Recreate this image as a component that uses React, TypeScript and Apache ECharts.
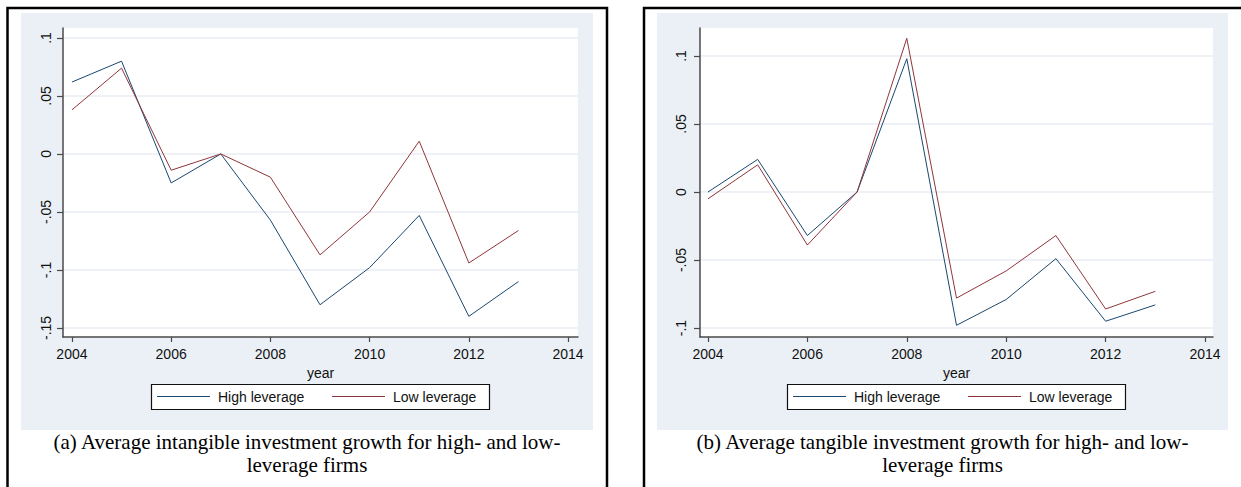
import { useEffect, useRef } from 'react';
import * as echarts from 'echarts';

const years = [2004, 2005, 2006, 2007, 2008, 2009, 2010, 2011, 2012, 2013];
const intangibleHigh = [0.062, 0.080, -0.025, 0.000, -0.057, -0.130, -0.098, -0.053, -0.140, -0.110];
const intangibleLow = [0.038, 0.074, -0.014, 0.000, -0.020, -0.087, -0.050, 0.011, -0.094, -0.066];
const tangibleHigh = [0.000, 0.024, -0.032, 0.000, 0.098, -0.098, -0.079, -0.049, -0.095, -0.083];
const tangibleLow = [-0.005, 0.020, -0.039, 0.000, 0.113, -0.078, -0.058, -0.032, -0.086, -0.073];
const xTicks = [2004, 2006, 2008, 2010, 2012, 2014];
const yTicksA = [-0.15, -0.1, -0.05, 0, 0.05, 0.1];
const yTicksB = [-0.1, -0.05, 0, 0.05, 0.1];
const seriesNames = ['High leverage', 'Low leverage'];
const xTitle = 'year';
const captionA = ['(a) Average intangible investment growth for high- and low-', 'leverage firms'];
const captionB = ['(b) Average tangible investment growth for high- and low-', 'leverage firms'];

const NAVY = '#1a476f';
const MAROON = '#90353b';
const BG = '#eaf0f5';
const GRID = '#e8eef4';
const AXIS = '#4a4a4a';
const SANS = '"Liberation Sans", Arial, sans-serif';
const SERIF = '"Liberation Serif", "Times New Roman", serif';

const fmtY = (v: number) => {
  const s = String(+(+v).toFixed(3));
  return s.replace(/^(-?)0\./, '$1.');
};

function xAxisFor(gridIndex: number, min: number, max: number) {
  return {
    type: 'value',
    gridIndex,
    min,
    max,
    name: xTitle,
    nameLocation: 'middle',
    nameGap: 24,
    nameTextStyle: { fontFamily: SANS, fontSize: 14, color: '#111' },
    axisLine: { show: true, onZero: false, lineStyle: { color: AXIS, width: 1.5 } },
    axisTick: { show: true, length: 5, customValues: xTicks, lineStyle: { color: AXIS, width: 1.2 } },
    axisLabel: { customValues: xTicks, margin: 10, fontFamily: SANS, fontSize: 14, color: '#111', formatter: (v: number) => String(v) },
    splitLine: { show: false },
  };
}

function yAxisFor(gridIndex: number, min: number, max: number, ticks: number[], margin: number) {
  return {
    type: 'value',
    gridIndex,
    min,
    max,
    axisLine: { show: true, onZero: false, lineStyle: { color: AXIS, width: 1.5 } },
    axisTick: { show: true, length: 6, customValues: ticks, lineStyle: { color: AXIS, width: 1.2 } },
    axisLabel: { customValues: ticks, rotate: 90, margin, fontFamily: SANS, fontSize: 14, color: '#111', formatter: fmtY },
    splitLine: { show: true, lineStyle: { color: GRID, width: 1.5 } },
  };
}

function lineSeries(name: string, values: number[], color: string, idx: number) {
  return {
    type: 'line',
    name,
    xAxisIndex: idx,
    yAxisIndex: idx,
    data: years.map((y, i) => [y, values[i]]),
    symbol: 'none',
    lineStyle: { color, width: 1 },
    itemStyle: { color },
    z: 3,
  };
}

function legendBox(x: number, entries: { name: string; color: string; lineX: number }[]) {
  const els: any[] = [
    { type: 'rect', z: 1, silent: true, shape: { x: x + 0.5, y: 384.5, width: 338, height: 25 }, style: { fill: '#fff', stroke: '#111', lineWidth: 1.2 } },
  ];
  entries.forEach((e) => {
    els.push({ type: 'line', z: 2, silent: true, shape: { x1: e.lineX, y1: 396.5, x2: e.lineX + 53, y2: 396.5 }, style: { stroke: e.color, lineWidth: 1.2 } });
    els.push({ type: 'text', z: 2, silent: true, x: e.lineX + 61, y: 397, style: { text: e.name, fill: '#111', font: `14px ${SANS}`, textAlign: 'left', textVerticalAlign: 'middle' } });
  });
  return els;
}

export default function App() {
  const ref = useRef<HTMLDivElement>(null);
  useEffect(() => {
    if (!ref.current) return;
    const chart = echarts.init(ref.current, undefined, { renderer: 'svg' });
    const caption = (lines: string[], cx: number) =>
      lines.map((t, i) => ({
        type: 'text',
        x: cx,
        y: 442 + i * 23,
        z: 5,
        style: { text: t, fill: '#000', font: `21px ${SERIF}`, textAlign: 'center', textVerticalAlign: 'middle' },
      }));
    chart.setOption({
      animation: false,
      backgroundColor: '#fff',
      grid: [
        { left: 63, top: 28, width: 515, height: 309, show: true, backgroundColor: '#fff', borderWidth: 0 },
        { left: 700, top: 28, width: 513, height: 309, show: true, backgroundColor: '#fff', borderWidth: 0 },
      ],
      xAxis: [xAxisFor(0, 2003.82, 2014.2), xAxisFor(1, 2003.84, 2014.16)],
      yAxis: [
        yAxisFor(0, -0.1578, 0.1086, yTicksA, 10),
        yAxisFor(1, -0.1066, 0.1206, yTicksB, 12),
      ],
      graphic: [
        { type: 'rect', z: -20, silent: true, shape: { x: 21, y: 13, width: 572, height: 417 }, style: { fill: BG } },
        { type: 'rect', z: -20, silent: true, shape: { x: 657, y: 13, width: 571, height: 417 }, style: { fill: BG } },
        { type: 'rect', z: -19, silent: true, shape: { x: 7.5, y: 8, width: 599.5, height: 500 }, style: { fill: 'none', stroke: '#000', lineWidth: 2.5 } },
        { type: 'rect', z: -19, silent: true, shape: { x: 644, y: 8, width: 620, height: 500 }, style: { fill: 'none', stroke: '#000', lineWidth: 2.5 } },
        ...legendBox(151, [
          { name: seriesNames[0], color: NAVY, lineX: 157 },
          { name: seriesNames[1], color: MAROON, lineX: 332 },
        ]),
        ...legendBox(787, [
          { name: seriesNames[0], color: NAVY, lineX: 793 },
          { name: seriesNames[1], color: MAROON, lineX: 968 },
        ]),
        ...caption(captionA, 307),
        ...caption(captionB, 942.5),
      ],
      series: [
        lineSeries(seriesNames[0], intangibleHigh, NAVY, 0),
        lineSeries(seriesNames[1], intangibleLow, MAROON, 0),
        lineSeries(seriesNames[0], tangibleHigh, NAVY, 1),
        lineSeries(seriesNames[1], tangibleLow, MAROON, 1),
      ],
    });
    return () => chart.dispose();
  }, []);
  return <div ref={ref} style={{ position: 'fixed', left: 0, top: 0, width: 1241, height: 487 }} />;
}
